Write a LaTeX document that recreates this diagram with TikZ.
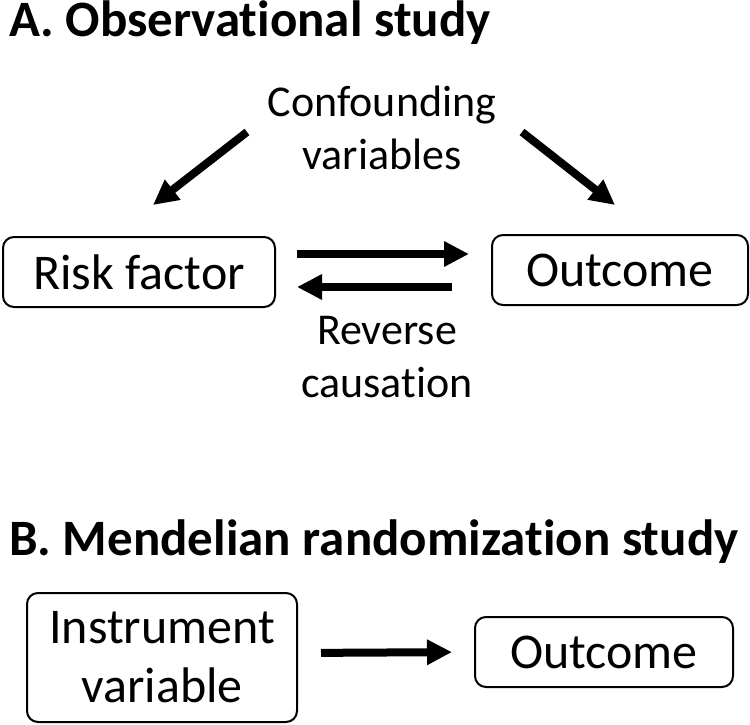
\documentclass[tikz,border=0pt]{standalone}
\usepackage{fontspec}
\setmainfont{Carlito}[Ligatures=NoCommon]
\usetikzlibrary{arrows.meta,positioning,calc}

\begin{document}
\begin{tikzpicture}[x=1pt, y=-1pt, line cap=round, line join=round,
    box/.style={draw, line width=2pt, rounded corners=11pt, inner sep=0pt,
      align=center, font=\fontsize{50}{59}\selectfont},
    lbl/.style={align=center, inner sep=0pt, font=\fontsize{44}{53}\selectfont},
    title/.style={anchor=base west, inner sep=0pt, font=\fontsize{51}{60}\selectfont\bfseries},
    fat/.style={line width=8pt, line cap=butt, -{Triangle[length=25pt, width=24pt]}}]
        \useasboundingbox (0,0) rectangle (750,725);
        \node[title] (titleA) at (9,37) {A. Observational study};
        \node[title] (titleB) at (9,555) {B. Mendelian randomization study};
        \node[lbl] (conf) at (382,128) {Confounding\\variables};
        \node[lbl] (rev) at (387,357) {Reverse\\causation};
        \node[box, minimum width=272pt, minimum height=70pt] (risk) at (139,272) {Risk factor};
        \node[box, minimum width=256pt, minimum height=70pt] (outA) at (620,270) {Outcome};
        \node[box, minimum width=270pt, minimum height=129pt] (inst) at (162,657.5) {Instrument\\variable};
        \node[box, minimum width=258pt, minimum height=70pt] (outB) at (604,652) {Outcome};
        \coordinate (confL) at (247,132);
        \coordinate (tipL) at (153,205);
        \coordinate (confR) at (522,132);
        \coordinate (tipR) at (615,205);
        \draw[fat] (confL) -- (tipL);
        \draw[fat] (confR) -- (tipR);
        \draw[fat, shorten <=21pt, shorten >=22pt] ([yshift=18pt]risk.east) -- ([yshift=16pt]outA.west);
        \draw[fat, shorten <=39pt, shorten >=21pt] ([yshift=-17pt]outA.west) -- ([yshift=-15pt]risk.east);
        \draw[fat, shorten <=23pt, shorten >=22pt] ([yshift=4.5pt]inst.east) -- (outB.west);
    \end{tikzpicture}
\end{document}
